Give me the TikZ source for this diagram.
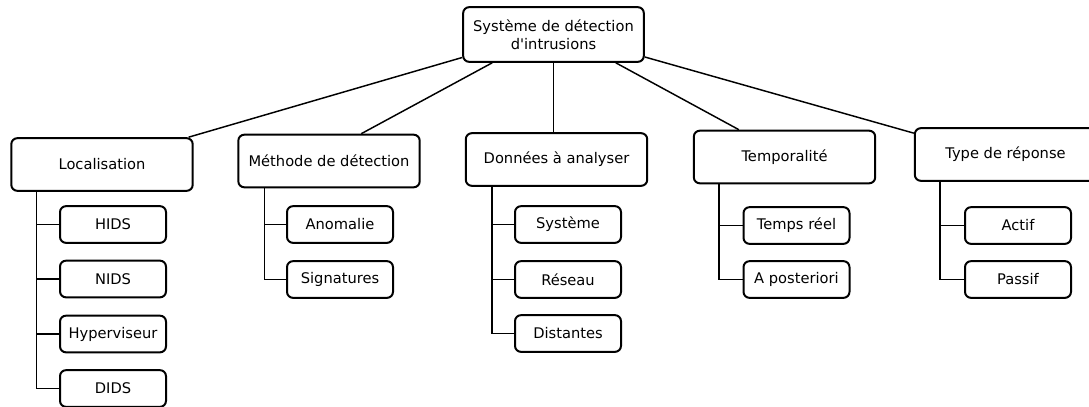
\documentclass[tikz,border=0pt]{standalone}
\usepackage{fontspec}
\setmainfont{DejaVu Sans}[Ligatures=TeXOff]
\usetikzlibrary{calc}
\begin{document}
\begin{tikzpicture}[x=0.75pt,y=-0.75pt,
  box/.style={draw, line width=1.5pt, rounded corners=4.5pt, align=center, font=\fontsize{11}{13.5}\selectfont, inner sep=0pt},
  cat/.style={box, minimum width=136pt, minimum height=39.5pt},
  leaf/.style={box, minimum width=79.5pt, minimum height=27.5pt},
  link/.style={line width=1.1pt}]
\useasboundingbox (0,0) rectangle (1089,407);

\node[box, minimum width=135.5pt, minimum height=41pt] (root) at (553.5,34.5) {Système de détection\\d'intrusions};

\node[cat] (loc) at (102,164.5) {Localisation};
\node[cat] (meth) at (329,161) {Méthode de détection};
\node[cat] (don) at (556.5,159.5) {Données à analyser};
\node[cat] (temp) at (784.5,157) {Temporalité};
\node[cat] (type) at (1005.5,154.5) {Type de réponse};

\node[leaf] (hids) at (113,224.5) {HIDS};
\node[leaf] (nids) at (113,279) {NIDS};
\node[leaf] (hyp) at (113,334) {Hyperviseur};
\node[leaf] (dids) at (113,388.5) {DIDS};

\node[leaf] (anom) at (340,224.5) {Anomalie};
\node[leaf] (sig) at (340,279.5) {Signatures};

\node[leaf] (sys) at (568,224.5) {Système};
\node[leaf] (res) at (568,279.5) {Réseau};
\node[leaf] (dist) at (568,333.5) {Distantes};

\node[leaf] (tr) at (796.5,225.5) {Temps réel};
\node[leaf] (ap) at (796.5,279.5) {A posteriori};

\node[leaf] (act) at (1018,225.5) {Actif};
\node[leaf] (pas) at (1018,279.5) {Passif};

% root edges
\draw[link] ($(root.west)+(0,23)$) -- ($(loc.north east)+(-5,0)$);
\draw[link] ($(root.south west)+(30,0)$) -- ($(meth.north west)+(124,0)$);
\draw[link] (root.south) -- (root.south |- don.north);
\draw[link] ($(root.south east)+(-29,0)$) -- ($(temp.north west)+(46,0)$);
\draw[link] ($(root.east)+(0,22.5)$) -- ($(type.north west)+(0,6)$);

% tree connectors
\foreach \c in {hids,nids,hyp,dids} \draw[link] ($(loc.south west)+(26,0)$) |- (\c.west);
\foreach \c in {anom,sig} \draw[link] ($(meth.south west)+(27,0)$) |- (\c.west);
\foreach \c in {sys,res,dist} \draw[link] ($(don.south west)+(27,0)$) |- (\c.west);
\foreach \c in {tr,ap} \draw[link] ($(temp.south west)+(26,0)$) |- (\c.west);
\foreach \c in {act,pas} \draw[link] ($(type.south west)+(26,0)$) |- (\c.west);
\end{tikzpicture}
\end{document}
